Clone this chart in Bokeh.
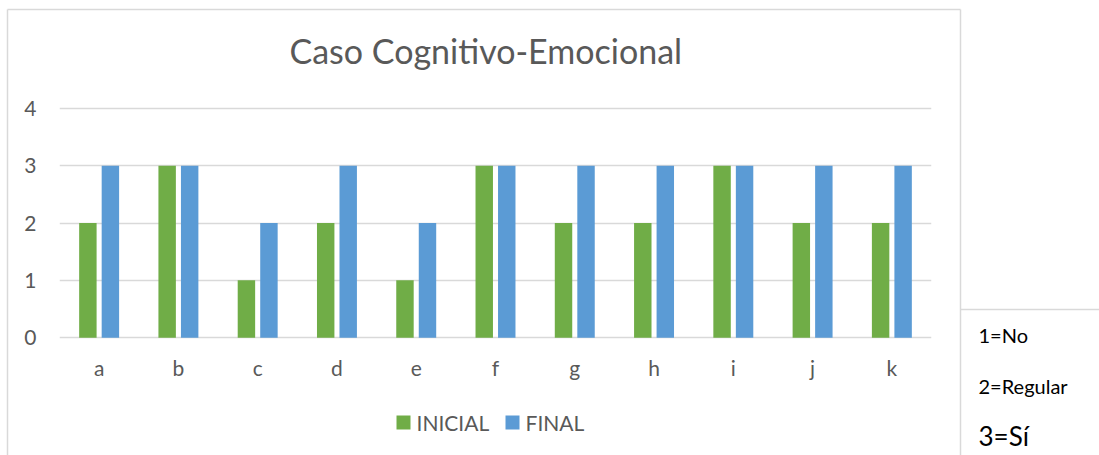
from bokeh.plotting import figure
from bokeh.models import FactorRange, Range1d, FixedTicker, ColumnDataSource
from bokeh.transform import dodge
from bokeh.core.properties import value
from bokeh.embed import file_html
from bokeh.resources import INLINE

# ---- data ----
categories = ["a", "b", "c", "d", "e", "f", "g", "h", "i", "j", "k"]
inicial = [2, 3, 1, 2, 1, 3, 2, 2, 3, 2, 2]
final = [3, 3, 2, 3, 2, 3, 3, 3, 3, 3, 3]
series_names = ["INICIAL", "FINAL"]
y_ticks = [0, 1, 2, 3, 4]
title_text = "Caso Cognitivo-Emocional"
notes = ["1=No", "2=Regular", "3=Sí"]

GREEN = "#70AD47"
BLUE = "#5B9BD5"
GRAY_TXT = "#595959"
GRID = "#D9D9D9"
FONT = "Lato"

W, H = 1099, 455
FL, FR, FT, FB = 59, 931, 105, 340          # plot frame on the canvas (px)
Y0, Y1 = -0.05, 4.05
NCAT = len(categories)


def X(px):   # canvas px -> synthetic categorical coordinate
    return (px - FL) * NCAT / (FR - FL)


def Y(py):   # canvas px -> data y
    return Y1 - (py - FT) * (Y1 - Y0) / (FB - FT)


src = ColumnDataSource(dict(cat=categories, ini=inicial, fin=final))

p = figure(x_range=FactorRange(*categories, range_padding=0),
           y_range=Range1d(Y0, Y1),
           width=W, height=H, output_backend="svg", toolbar_location=None,
           min_border_left=FL, min_border_right=W - FR, min_border_top=FT,
           min_border_bottom=H - FB)
p.outline_line_color = None
p.border_fill_color = "white"

r1 = p.vbar(x=dodge("cat", -0.142, range=p.x_range), top="ini", bottom=0,
            width=0.22, source=src, fill_color=GREEN, line_color=None)
r2 = p.vbar(x=dodge("cat", 0.142, range=p.x_range), top="fin", bottom=0,
            width=0.22, source=src, fill_color=BLUE, line_color=None)

# axes
p.yaxis.ticker = FixedTicker(ticks=y_ticks)
for ax in (p.xaxis[0], p.yaxis[0]):
    ax.axis_line_color = None
    ax.major_tick_line_color = None
    ax.minor_tick_line_color = None
    ax.major_label_text_font = FONT
    ax.major_label_text_font_size = "21px"
    ax.major_label_text_color = GRAY_TXT
p.yaxis.major_label_standoff = 17
p.xaxis.major_label_standoff = 8
p.xgrid.grid_line_color = None
p.ygrid.grid_line_color = GRID
p.ygrid.grid_line_width = 1.5

# series key under the axis, drawn unclipped above the frame
key_y = [Y(422), Y(422)]
p.segment(x0=[X(396), X(505)], x1=[X(410), X(519)], y0=key_y, y1=key_y,
          line_color=[GREEN, BLUE], line_width=14, line_cap="butt",
          level="overlay")
p.text(x=[X(416), X(525)], y=key_y, text=series_names, text_font=value(FONT),
       text_font_size="21px", text_color=GRAY_TXT, text_align="left",
       text_baseline="middle", level="overlay")

# chart title
p.text(x=[X(289)], y=[Y(50)], text=[title_text], text_font=value(FONT),
       text_font_size="34px", text_color=GRAY_TXT, text_align="left",
       text_baseline="middle", level="overlay")

# chart-area border and notes box
p.segment(x0=[X(7), X(7), X(960), X(960)],
          y0=[Y(9), Y(9), Y(9), Y(309)],
          x1=[X(7), X(960), X(960), X(1110)],
          y1=[Y(470), Y(9), Y(470), Y(309)],
          line_color=GRID, line_width=1.5, level="overlay")

note_x = [X(978)] * 3
note_y = [Y(334), Y(385), Y(435)]
note_sizes = ["20px", "20px", "26px"]
p.text(x=note_x, y=note_y, text=notes, text_font=value(FONT),
       text_font_size=note_sizes, text_color="#000000",
       text_align="left", text_baseline="middle", level="overlay")

open("out.html", "w").write(file_html(p, INLINE))
